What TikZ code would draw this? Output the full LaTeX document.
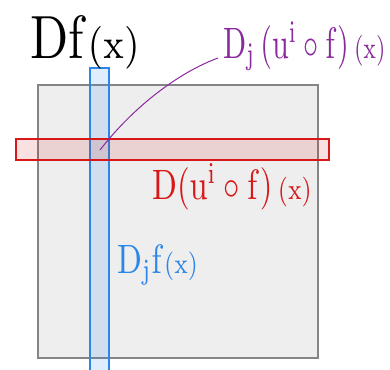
\documentclass[tikz,border=0pt]{standalone}
\usepackage{graphicx}
\usepackage{amsmath}
\definecolor{pgray}{HTML}{EEEEEE}
\definecolor{bgray}{HTML}{858585}
\definecolor{mblue}{HTML}{2A86E8}
\definecolor{mred}{HTML}{D81818}
\definecolor{mpurple}{HTML}{8A2A9C}
\tikzset{
  lbl/.style={anchor=base west, inner sep=0pt},
  strip/.style={line width=2pt},
}
\begin{document}
\begin{tikzpicture}[x=1pt,y=-1pt]
\useasboundingbox (0,0) rectangle (390,369);
\node[draw=bgray, line width=1.6pt, fill=pgray, minimum width=280pt, minimum height=273pt, inner sep=0pt, anchor=north west] (sq) at (37,84) {};
\node[strip, draw=mblue, fill=mblue, fill opacity=0.15, minimum width=19pt, minimum height=312pt, inner sep=0pt, anchor=north west] (vs) at (89,67) {};
\node[strip, draw=mred, fill=mred, fill opacity=0.13, minimum width=313pt, minimum height=21pt, inner sep=0pt, anchor=north west] (hs) at (15,138) {};
\coordinate (cross) at (100,150);
\node[lbl, text=black] (df) at (30,59) {\scalebox{5.0}[6.1]{$\mathrm{D}\mathrm{f}{\scriptstyle(\mathrm{x})}$}};
\node[lbl, text=mpurple] (pl) at (223,58) {\scalebox{3.02}[4.4]{$\mathrm{D}_{\mathrm{j}}\,(\mathrm{u}^{\mathrm{i}}\circ \mathrm{f})\,{\scriptstyle(\mathrm{x})}$}};
\node[lbl, text=mred] (rl) at (152,199) {\scalebox{3.25}[4.25]{$\mathrm{D}(\mathrm{u}^{\mathrm{i}}\circ \mathrm{f})\,{\scriptstyle(\mathrm{x})}$}};
\node[lbl, text=mblue] (bl) at (117,273) {\scalebox{3.25}[4.1]{$\mathrm{D}_{\mathrm{j}}\mathrm{f}{\scriptstyle(\mathrm{x})}$}};
\coordinate (lend) at ([xshift=-5pt]pl.base west);
\draw[mpurple, line width=1pt] (cross) .. controls (135,105) and (180,72) .. (lend);
\end{tikzpicture}
\end{document}
